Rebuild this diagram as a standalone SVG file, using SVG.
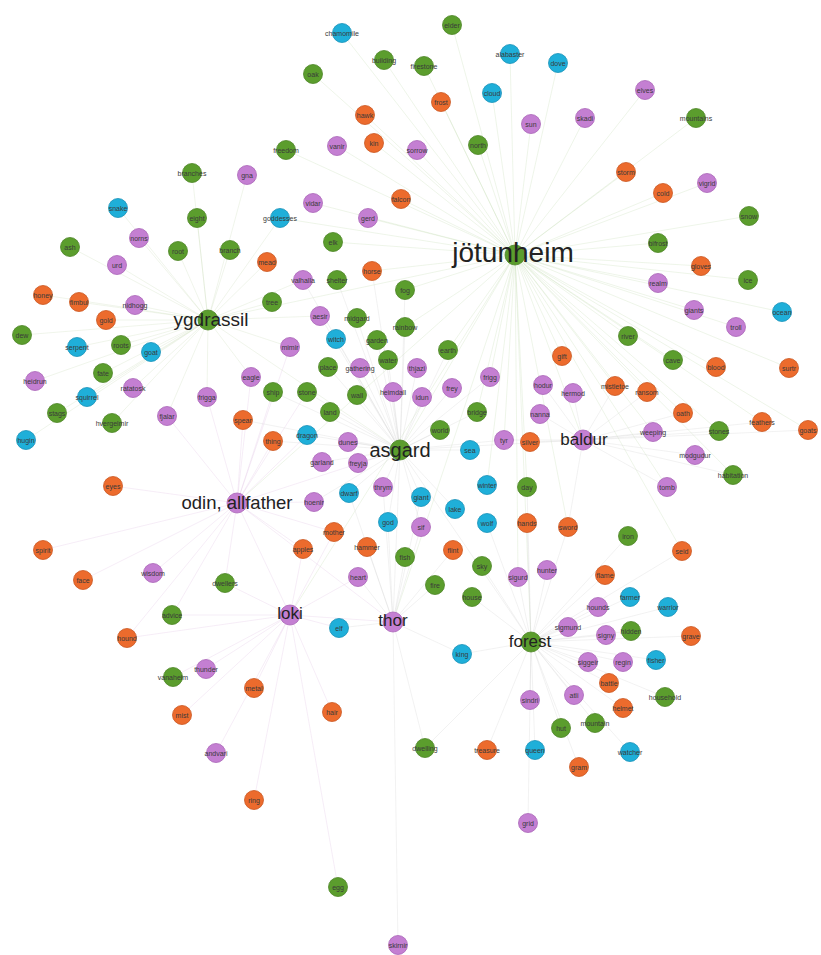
<svg xmlns="http://www.w3.org/2000/svg" width="821" height="955" viewBox="0 0 821 955">
<style>
.g{fill:#5b9d2d;stroke:#4b8424}
.o{fill:#ec6b2d;stroke:#c9561f}
.p{fill:#c47fd2;stroke:#a964b8}
.c{fill:#1fafd9;stroke:#1690b8}
circle{stroke-width:.8}
text{font-family:"Liberation Sans",Arial,sans-serif;text-anchor:middle;fill:#3a3a3a;font-size:7px;dominant-baseline:central}
text.h{fill:#222;font-size:19px}
#edges path{fill:none;stroke-width:.6;stroke-linecap:round}
.ej{stroke:#b7d3a0;opacity:.4}
.ey{stroke:#c6d8b4;opacity:.45}
.eo{stroke:#d7b3de;opacity:.4}
.en{stroke:#cfcfcf;opacity:.45}
</style>
<rect width="821" height="955" fill="#ffffff"/>
<g id="edges">
<path class="ej" d="M515 255L342 33M515 255L452 25M515 255L384 60M515 255L424 66M515 255L510 54M515 255L558 63M515 255L313 74M515 255L492 93M515 255L441 102M515 255L531 124M515 255L645 90M515 255L585 118M515 255L696 118M515 255L365 115M515 255L374 143M515 255L337 146M515 255L417 150M515 255L478 145M515 255L286 150M515 255L401 199M515 255L313 203M515 255L368 218M515 255L333 242M515 255L372 271M515 255L405 290M515 255L405 327M515 255L448 350M515 255L626 172M515 255L663 193M515 255L707 183M515 255L749 216M515 255L658 243M515 255L701 266M515 255L748 280M515 255L658 283M515 255L694 310M515 255L782 312M515 255L736 327M515 255L628 336M515 255L673 360M515 255L716 367M515 255L789 368M515 255L762 422M515 255L719 431M515 255L808 430M515 255L562 356M515 255L490 377M515 255L477 412M515 255L504 440M515 255L527 487M515 255L487 485M515 255L531 642M515 255L400 450M515 255L583 440M515 255L393 622M515 255L237 503M515 255L290 615M515 255L518 577M515 255L568 527M515 255L682 551M515 255L733 475M515 255L667 487M515 255L653 432M515 255L683 413M515 255L647 392M515 255L615 386M515 255L208 320M515 255L280 218"/>
<path class="ey" d="M208 320L192 173M208 320L247 175M208 320L118 208M208 320L197 218M208 320L139 238M208 320L70 247M208 320L178 251M208 320L230 250M208 320L267 262M208 320L117 265M208 320L43 295M208 320L79 302M208 320L135 305M208 320L106 320M208 320L22 335M208 320L77 347M208 320L121 345M208 320L151 352M208 320L103 373M208 320L35 381M208 320L133 388M208 320L87 397M208 320L57 413M208 320L167 416M208 320L112 423M208 320L26 440M208 320L207 397M208 320L280 218M208 320L303 280M208 320L272 302M208 320L320 316M208 320L290 347M208 320L251 377M208 320L400 450"/>
<path class="eo" d="M237 503L113 486M237 503L43 550M237 503L83 580M237 503L153 573M237 503L225 583M237 503L172 615M237 503L127 638M237 503L243 420M237 503L273 441M237 503L307 435M237 503L314 502M237 503L334 532M237 503L303 549M237 503L251 377M237 503L273 392M237 503L307 392M237 503L290 615M237 503L393 622M237 503L400 450M237 503L290 347M237 503L207 397M237 503L167 416M290 615L173 677M290 615L206 669M290 615L254 688M290 615L182 715M290 615L216 753M290 615L254 800M290 615L332 712M290 615L358 577M290 615L339 628M290 615L303 549M290 615L338 887M290 615L393 622M290 615L225 583M290 615L172 615M290 615L127 638M290 615L334 532"/>
<path class="en" d="M393 622L367 547M393 622L405 557M393 622L453 550M393 622L435 585M393 622L421 527M393 622L388 522M393 622L421 497M393 622L383 487M393 622L462 654M393 622L425 748M393 622L398 945M393 622L358 577M393 622L349 493M393 622L339 628M393 622L400 450M531 642L472 597M531 642L482 566M531 642L518 577M531 642L547 570M531 642L605 575M531 642L630 597M531 642L668 607M531 642L598 607M531 642L568 627M531 642L606 635M531 642L631 631M531 642L691 636M531 642L588 662M531 642L623 662M531 642L656 660M531 642L609 683M531 642L574 695M531 642L665 697M531 642L623 708M531 642L595 723M531 642L561 728M531 642L535 750M531 642L487 750M531 642L425 748M531 642L630 752M531 642L579 767M531 642L528 823M531 642L530 700M531 642L628 536M531 642L682 551M531 642L568 527M531 642L527 487M531 642L527 523M531 642L487 523M531 642L462 654M531 642L400 450M400 450L372 271M400 450L337 280M400 450L405 290M400 450L357 318M400 450L405 327M400 450L336 339M400 450L377 340M400 450L448 350M400 450L388 360M400 450L328 367M400 450L360 368M400 450L417 368M400 450L490 377M400 450L273 392M400 450L307 392M400 450L357 395M400 450L393 392M400 450L422 397M400 450L452 388M400 450L477 412M400 450L330 412M400 450L440 430M400 450L307 435M400 450L348 442M400 450L322 462M400 450L358 463M400 450L470 450M400 450L504 440M400 450L349 493M400 450L383 487M400 450L421 497M400 450L455 509M400 450L388 522M400 450L421 527M400 450L320 316M400 450L303 280M400 450L243 420M400 450L273 441M400 450L314 502M583 440L615 386M583 440L647 392M583 440L573 393M583 440L543 385M583 440L540 414M583 440L683 413M583 440L653 432M583 440L695 455M583 440L733 475M583 440L667 487M583 440L530 442M583 440L504 440M583 440L719 431M583 440L762 422M583 440L808 430M583 440L568 527M583 440L400 450"/>
</g>
<g id="n1"><circle class="c" cx="342" cy="33" r="9.5"/><text x="342" y="33">chamomile</text></g>
<g id="n2"><circle class="g" cx="452" cy="25" r="9.5"/><text x="452" y="25">elder</text></g>
<g id="n3"><circle class="g" cx="384" cy="60" r="9.5"/><text x="384" y="60">building</text></g>
<g id="n4"><circle class="g" cx="424" cy="66" r="9.5"/><text x="424" y="66">firestone</text></g>
<g id="n5"><circle class="c" cx="510" cy="54" r="9.5"/><text x="510" y="54">alabaster</text></g>
<g id="n6"><circle class="c" cx="558" cy="63" r="9.5"/><text x="558" y="63">dove</text></g>
<g id="n7"><circle class="g" cx="313" cy="74" r="9.5"/><text x="313" y="74">oak</text></g>
<g id="n8"><circle class="c" cx="492" cy="93" r="9.5"/><text x="492" y="93">cloud</text></g>
<g id="n9"><circle class="o" cx="441" cy="102" r="9.5"/><text x="441" y="102">frost</text></g>
<g id="n10"><circle class="p" cx="531" cy="124" r="9.5"/><text x="531" y="124">sun</text></g>
<g id="n11"><circle class="p" cx="645" cy="90" r="9.5"/><text x="645" y="90">elves</text></g>
<g id="n12"><circle class="p" cx="585" cy="118" r="9.5"/><text x="585" y="118">skadi</text></g>
<g id="n13"><circle class="g" cx="696" cy="118" r="9.5"/><text x="696" y="118">mountains</text></g>
<g id="n14"><circle class="o" cx="365" cy="115" r="9.5"/><text x="365" y="115">hawk</text></g>
<g id="n15"><circle class="o" cx="374" cy="143" r="9.5"/><text x="374" y="143">kin</text></g>
<g id="n16"><circle class="p" cx="337" cy="146" r="9.5"/><text x="337" y="146">vanir</text></g>
<g id="n17"><circle class="p" cx="417" cy="150" r="9.5"/><text x="417" y="150">sorrow</text></g>
<g id="n18"><circle class="g" cx="478" cy="145" r="9.5"/><text x="478" y="145">north</text></g>
<g id="n19"><circle class="g" cx="286" cy="150" r="9.5"/><text x="286" y="150">freedom</text></g>
<g id="n20"><circle class="o" cx="401" cy="199" r="9.5"/><text x="401" y="199">falcon</text></g>
<g id="n21"><circle class="p" cx="313" cy="203" r="9.5"/><text x="313" y="203">vidar</text></g>
<g id="n22"><circle class="p" cx="368" cy="218" r="9.5"/><text x="368" y="218">gerd</text></g>
<g id="n23"><circle class="c" cx="280" cy="218" r="9.5"/><text x="280" y="218">goddesses</text></g>
<g id="n24"><circle class="g" cx="333" cy="242" r="9.5"/><text x="333" y="242">elk</text></g>
<g id="n25"><circle class="g" cx="192" cy="173" r="9.5"/><text x="192" y="173">branches</text></g>
<g id="n26"><circle class="p" cx="247" cy="175" r="9.5"/><text x="247" y="175">gna</text></g>
<g id="n27"><circle class="c" cx="118" cy="208" r="9.5"/><text x="118" y="208">snake</text></g>
<g id="n28"><circle class="g" cx="197" cy="218" r="9.5"/><text x="197" y="218">eight</text></g>
<g id="n29"><circle class="p" cx="139" cy="238" r="9.5"/><text x="139" y="238">norns</text></g>
<g id="n30"><circle class="g" cx="70" cy="247" r="9.5"/><text x="70" y="247">ash</text></g>
<g id="n31"><circle class="g" cx="178" cy="251" r="9.5"/><text x="178" y="251">root</text></g>
<g id="n32"><circle class="g" cx="230" cy="250" r="9.5"/><text x="230" y="250">branch</text></g>
<g id="n33"><circle class="o" cx="267" cy="262" r="9.5"/><text x="267" y="262">mead</text></g>
<g id="n34"><circle class="p" cx="117" cy="265" r="9.5"/><text x="117" y="265">urd</text></g>
<g id="n35"><circle class="o" cx="43" cy="295" r="9.5"/><text x="43" y="295">honey</text></g>
<g id="n36"><circle class="o" cx="79" cy="302" r="9.5"/><text x="79" y="302">fimbul</text></g>
<g id="n37"><circle class="p" cx="135" cy="305" r="9.5"/><text x="135" y="305">nidhogg</text></g>
<g id="n38"><circle class="o" cx="106" cy="320" r="9.5"/><text x="106" y="320">gold</text></g>
<g id="n39"><circle class="g" cx="22" cy="335" r="9.5"/><text x="22" y="335">dew</text></g>
<g id="n40"><circle class="c" cx="77" cy="347" r="9.5"/><text x="77" y="347">serpent</text></g>
<g id="n41"><circle class="g" cx="121" cy="345" r="9.5"/><text x="121" y="345">roots</text></g>
<g id="n42"><circle class="c" cx="151" cy="352" r="9.5"/><text x="151" y="352">goat</text></g>
<g id="n43"><circle class="g" cx="103" cy="373" r="9.5"/><text x="103" y="373">fate</text></g>
<g id="n44"><circle class="p" cx="35" cy="381" r="9.5"/><text x="35" y="381">heidrun</text></g>
<g id="n45"><circle class="p" cx="133" cy="388" r="9.5"/><text x="133" y="388">ratatosk</text></g>
<g id="n46"><circle class="c" cx="87" cy="397" r="9.5"/><text x="87" y="397">squirrel</text></g>
<g id="n47"><circle class="g" cx="57" cy="413" r="9.5"/><text x="57" y="413">stags</text></g>
<g id="n48"><circle class="p" cx="167" cy="416" r="9.5"/><text x="167" y="416">fjalar</text></g>
<g id="n49"><circle class="g" cx="112" cy="423" r="9.5"/><text x="112" y="423">hvergelmir</text></g>
<g id="n50"><circle class="c" cx="26" cy="440" r="9.5"/><text x="26" y="440">hugin</text></g>
<g id="n51"><circle class="p" cx="207" cy="397" r="9.5"/><text x="207" y="397">frigga</text></g>
<g id="n52"><circle class="p" cx="251" cy="377" r="9.5"/><text x="251" y="377">eagle</text></g>
<g id="n53"><circle class="o" cx="243" cy="420" r="9.5"/><text x="243" y="420">spear</text></g>
<g id="n54"><circle class="o" cx="273" cy="441" r="9.5"/><text x="273" y="441">thing</text></g>
<g id="n55"><circle class="o" cx="372" cy="271" r="9.5"/><text x="372" y="271">horse</text></g>
<g id="n56"><circle class="p" cx="303" cy="280" r="9.5"/><text x="303" y="280">valhalla</text></g>
<g id="n57"><circle class="g" cx="337" cy="280" r="9.5"/><text x="337" y="280">shelter</text></g>
<g id="n58"><circle class="g" cx="405" cy="290" r="9.5"/><text x="405" y="290">fog</text></g>
<g id="n59"><circle class="g" cx="272" cy="302" r="9.5"/><text x="272" y="302">tree</text></g>
<g id="n60"><circle class="p" cx="320" cy="316" r="9.5"/><text x="320" y="316">aesir</text></g>
<g id="n61"><circle class="g" cx="357" cy="318" r="9.5"/><text x="357" y="318">midgard</text></g>
<g id="n62"><circle class="g" cx="405" cy="327" r="9.5"/><text x="405" y="327">rainbow</text></g>
<g id="n63"><circle class="c" cx="336" cy="339" r="9.5"/><text x="336" y="339">witch</text></g>
<g id="n64"><circle class="g" cx="377" cy="340" r="9.5"/><text x="377" y="340">garden</text></g>
<g id="n65"><circle class="p" cx="290" cy="347" r="9.5"/><text x="290" y="347">mimir</text></g>
<g id="n66"><circle class="g" cx="448" cy="350" r="9.5"/><text x="448" y="350">earth</text></g>
<g id="n67"><circle class="g" cx="388" cy="360" r="9.5"/><text x="388" y="360">water</text></g>
<g id="n68"><circle class="g" cx="328" cy="367" r="9.5"/><text x="328" y="367">place</text></g>
<g id="n69"><circle class="p" cx="360" cy="368" r="9.5"/><text x="360" y="368">gathering</text></g>
<g id="n70"><circle class="p" cx="417" cy="368" r="9.5"/><text x="417" y="368">thjazi</text></g>
<g id="n71"><circle class="p" cx="490" cy="377" r="9.5"/><text x="490" y="377">frigg</text></g>
<g id="n72"><circle class="g" cx="273" cy="392" r="9.5"/><text x="273" y="392">ship</text></g>
<g id="n73"><circle class="g" cx="307" cy="392" r="9.5"/><text x="307" y="392">stone</text></g>
<g id="n74"><circle class="g" cx="357" cy="395" r="9.5"/><text x="357" y="395">wall</text></g>
<g id="n75"><circle class="p" cx="393" cy="392" r="9.5"/><text x="393" y="392">heimdall</text></g>
<g id="n76"><circle class="p" cx="422" cy="397" r="9.5"/><text x="422" y="397">idun</text></g>
<g id="n77"><circle class="p" cx="452" cy="388" r="9.5"/><text x="452" y="388">frey</text></g>
<g id="n78"><circle class="g" cx="477" cy="412" r="9.5"/><text x="477" y="412">bridge</text></g>
<g id="n79"><circle class="g" cx="330" cy="412" r="9.5"/><text x="330" y="412">land</text></g>
<g id="n80"><circle class="g" cx="440" cy="430" r="9.5"/><text x="440" y="430">world</text></g>
<g id="n81"><circle class="c" cx="307" cy="435" r="9.5"/><text x="307" y="435">dragon</text></g>
<g id="n82"><circle class="p" cx="348" cy="442" r="9.5"/><text x="348" y="442">dunes</text></g>
<g id="n84"><circle class="p" cx="322" cy="462" r="9.5"/><text x="322" y="462">garland</text></g>
<g id="n85"><circle class="p" cx="358" cy="463" r="9.5"/><text x="358" y="463">freyja</text></g>
<g id="n86"><circle class="c" cx="470" cy="450" r="9.5"/><text x="470" y="450">sea</text></g>
<g id="n87"><circle class="p" cx="504" cy="440" r="9.5"/><text x="504" y="440">tyr</text></g>
<g id="n88"><circle class="o" cx="530" cy="442" r="9.5"/><text x="530" y="442">silver</text></g>
<g id="n89"><circle class="p" cx="543" cy="385" r="9.5"/><text x="543" y="385">hodur</text></g>
<g id="n90"><circle class="p" cx="540" cy="414" r="9.5"/><text x="540" y="414">nanna</text></g>
<g id="n92"><circle class="o" cx="626" cy="172" r="9.5"/><text x="626" y="172">storm</text></g>
<g id="n93"><circle class="o" cx="663" cy="193" r="9.5"/><text x="663" y="193">cold</text></g>
<g id="n94"><circle class="p" cx="707" cy="183" r="9.5"/><text x="707" y="183">vigrid</text></g>
<g id="n95"><circle class="g" cx="749" cy="216" r="9.5"/><text x="749" y="216">snow</text></g>
<g id="n96"><circle class="g" cx="658" cy="243" r="9.5"/><text x="658" y="243">bifrost</text></g>
<g id="n97"><circle class="o" cx="701" cy="266" r="9.5"/><text x="701" y="266">gloves</text></g>
<g id="n98"><circle class="g" cx="748" cy="280" r="9.5"/><text x="748" y="280">ice</text></g>
<g id="n99"><circle class="p" cx="658" cy="283" r="9.5"/><text x="658" y="283">realm</text></g>
<g id="n100"><circle class="p" cx="694" cy="310" r="9.5"/><text x="694" y="310">giants</text></g>
<g id="n101"><circle class="c" cx="782" cy="312" r="9.5"/><text x="782" y="312">ocean</text></g>
<g id="n102"><circle class="p" cx="736" cy="327" r="9.5"/><text x="736" y="327">troll</text></g>
<g id="n103"><circle class="g" cx="628" cy="336" r="9.5"/><text x="628" y="336">river</text></g>
<g id="n104"><circle class="o" cx="562" cy="356" r="9.5"/><text x="562" y="356">gift</text></g>
<g id="n105"><circle class="g" cx="673" cy="360" r="9.5"/><text x="673" y="360">cave</text></g>
<g id="n106"><circle class="o" cx="716" cy="367" r="9.5"/><text x="716" y="367">blood</text></g>
<g id="n107"><circle class="o" cx="789" cy="368" r="9.5"/><text x="789" y="368">surtr</text></g>
<g id="n108"><circle class="p" cx="573" cy="393" r="9.5"/><text x="573" y="393">hermod</text></g>
<g id="n109"><circle class="o" cx="615" cy="386" r="9.5"/><text x="615" y="386">mistletoe</text></g>
<g id="n110"><circle class="o" cx="647" cy="392" r="9.5"/><text x="647" y="392">ransom</text></g>
<g id="n111"><circle class="o" cx="683" cy="413" r="9.5"/><text x="683" y="413">oath</text></g>
<g id="n112"><circle class="o" cx="762" cy="422" r="9.5"/><text x="762" y="422">feathers</text></g>
<g id="n113"><circle class="g" cx="719" cy="431" r="9.5"/><text x="719" y="431">stones</text></g>
<g id="n114"><circle class="p" cx="653" cy="432" r="9.5"/><text x="653" y="432">weeping</text></g>
<g id="n115"><circle class="o" cx="808" cy="430" r="9.5"/><text x="808" y="430">goats</text></g>
<g id="n117"><circle class="p" cx="695" cy="455" r="9.5"/><text x="695" y="455">modgudur</text></g>
<g id="n118"><circle class="g" cx="733" cy="475" r="9.5"/><text x="733" y="475">habitation</text></g>
<g id="n119"><circle class="p" cx="667" cy="487" r="9.5"/><text x="667" y="487">tomb</text></g>
<g id="n120"><circle class="p" cx="314" cy="502" r="9.5"/><text x="314" y="502">hoenir</text></g>
<g id="n122"><circle class="c" cx="349" cy="493" r="9.5"/><text x="349" y="493">dwarf</text></g>
<g id="n123"><circle class="p" cx="383" cy="487" r="9.5"/><text x="383" y="487">thrym</text></g>
<g id="n124"><circle class="c" cx="421" cy="497" r="9.5"/><text x="421" y="497">giant</text></g>
<g id="n125"><circle class="c" cx="487" cy="485" r="9.5"/><text x="487" y="485">winter</text></g>
<g id="n126"><circle class="g" cx="527" cy="487" r="9.5"/><text x="527" y="487">day</text></g>
<g id="n127"><circle class="c" cx="455" cy="509" r="9.5"/><text x="455" y="509">lake</text></g>
<g id="n128"><circle class="c" cx="388" cy="522" r="9.5"/><text x="388" y="522">god</text></g>
<g id="n129"><circle class="p" cx="421" cy="527" r="9.5"/><text x="421" y="527">sif</text></g>
<g id="n130"><circle class="c" cx="487" cy="523" r="9.5"/><text x="487" y="523">wolf</text></g>
<g id="n131"><circle class="o" cx="527" cy="523" r="9.5"/><text x="527" y="523">hands</text></g>
<g id="n132"><circle class="o" cx="334" cy="532" r="9.5"/><text x="334" y="532">mother</text></g>
<g id="n133"><circle class="o" cx="303" cy="549" r="9.5"/><text x="303" y="549">apples</text></g>
<g id="n134"><circle class="o" cx="367" cy="547" r="9.5"/><text x="367" y="547">hammer</text></g>
<g id="n135"><circle class="g" cx="405" cy="557" r="9.5"/><text x="405" y="557">fish</text></g>
<g id="n136"><circle class="o" cx="453" cy="550" r="9.5"/><text x="453" y="550">flint</text></g>
<g id="n137"><circle class="o" cx="568" cy="527" r="9.5"/><text x="568" y="527">sword</text></g>
<g id="n138"><circle class="g" cx="628" cy="536" r="9.5"/><text x="628" y="536">iron</text></g>
<g id="n139"><circle class="o" cx="682" cy="551" r="9.5"/><text x="682" y="551">seid</text></g>
<g id="n140"><circle class="g" cx="482" cy="566" r="9.5"/><text x="482" y="566">sky</text></g>
<g id="n141"><circle class="p" cx="358" cy="577" r="9.5"/><text x="358" y="577">heart</text></g>
<g id="n142"><circle class="p" cx="518" cy="577" r="9.5"/><text x="518" y="577">sigurd</text></g>
<g id="n143"><circle class="p" cx="547" cy="570" r="9.5"/><text x="547" y="570">hunter</text></g>
<g id="n144"><circle class="g" cx="435" cy="585" r="9.5"/><text x="435" y="585">fire</text></g>
<g id="n145"><circle class="g" cx="472" cy="597" r="9.5"/><text x="472" y="597">house</text></g>
<g id="n148"><circle class="c" cx="339" cy="628" r="9.5"/><text x="339" y="628">elf</text></g>
<g id="n149"><circle class="c" cx="462" cy="654" r="9.5"/><text x="462" y="654">king</text></g>
<g id="n151"><circle class="p" cx="530" cy="700" r="9.5"/><text x="530" y="700">sindri</text></g>
<g id="n152"><circle class="o" cx="605" cy="575" r="9.5"/><text x="605" y="575">flame</text></g>
<g id="n153"><circle class="c" cx="630" cy="597" r="9.5"/><text x="630" y="597">farmer</text></g>
<g id="n154"><circle class="c" cx="668" cy="607" r="9.5"/><text x="668" y="607">warrior</text></g>
<g id="n155"><circle class="p" cx="598" cy="607" r="9.5"/><text x="598" y="607">hounds</text></g>
<g id="n156"><circle class="p" cx="568" cy="627" r="9.5"/><text x="568" y="627">sigmund</text></g>
<g id="n157"><circle class="p" cx="606" cy="635" r="9.5"/><text x="606" y="635">signy</text></g>
<g id="n158"><circle class="g" cx="631" cy="631" r="9.5"/><text x="631" y="631">hidden</text></g>
<g id="n159"><circle class="o" cx="691" cy="636" r="9.5"/><text x="691" y="636">grave</text></g>
<g id="n160"><circle class="p" cx="588" cy="662" r="9.5"/><text x="588" y="662">siggeir</text></g>
<g id="n161"><circle class="p" cx="623" cy="662" r="9.5"/><text x="623" y="662">regin</text></g>
<g id="n162"><circle class="c" cx="656" cy="660" r="9.5"/><text x="656" y="660">fisher</text></g>
<g id="n163"><circle class="o" cx="609" cy="683" r="9.5"/><text x="609" y="683">battle</text></g>
<g id="n164"><circle class="p" cx="574" cy="695" r="9.5"/><text x="574" y="695">atli</text></g>
<g id="n165"><circle class="g" cx="665" cy="697" r="9.5"/><text x="665" y="697">household</text></g>
<g id="n166"><circle class="o" cx="623" cy="708" r="9.5"/><text x="623" y="708">helmet</text></g>
<g id="n167"><circle class="g" cx="595" cy="723" r="9.5"/><text x="595" y="723">mountain</text></g>
<g id="n168"><circle class="g" cx="561" cy="728" r="9.5"/><text x="561" y="728">hut</text></g>
<g id="n169"><circle class="c" cx="535" cy="750" r="9.5"/><text x="535" y="750">queen</text></g>
<g id="n170"><circle class="o" cx="487" cy="750" r="9.5"/><text x="487" y="750">treasure</text></g>
<g id="n171"><circle class="g" cx="425" cy="748" r="9.5"/><text x="425" y="748">dwelling</text></g>
<g id="n172"><circle class="c" cx="630" cy="752" r="9.5"/><text x="630" y="752">watcher</text></g>
<g id="n173"><circle class="o" cx="579" cy="767" r="9.5"/><text x="579" y="767">gram</text></g>
<g id="n174"><circle class="p" cx="528" cy="823" r="9.5"/><text x="528" y="823">grid</text></g>
<g id="n175"><circle class="g" cx="338" cy="887" r="9.5"/><text x="338" y="887">egg</text></g>
<g id="n176"><circle class="p" cx="398" cy="945" r="9.5"/><text x="398" y="945">skirnir</text></g>
<g id="n177"><circle class="o" cx="332" cy="712" r="9.5"/><text x="332" y="712">hair</text></g>
<g id="n178"><circle class="o" cx="113" cy="486" r="9.5"/><text x="113" y="486">eyes</text></g>
<g id="n179"><circle class="o" cx="43" cy="550" r="9.5"/><text x="43" y="550">spirit</text></g>
<g id="n180"><circle class="o" cx="83" cy="580" r="9.5"/><text x="83" y="580">face</text></g>
<g id="n181"><circle class="p" cx="153" cy="573" r="9.5"/><text x="153" y="573">wisdom</text></g>
<g id="n182"><circle class="g" cx="225" cy="583" r="9.5"/><text x="225" y="583">dwellers</text></g>
<g id="n183"><circle class="g" cx="172" cy="615" r="9.5"/><text x="172" y="615">advice</text></g>
<g id="n184"><circle class="o" cx="127" cy="638" r="9.5"/><text x="127" y="638">hound</text></g>
<g id="n185"><circle class="g" cx="173" cy="677" r="9.5"/><text x="173" y="677">vanaheim</text></g>
<g id="n186"><circle class="p" cx="206" cy="669" r="9.5"/><text x="206" y="669">thunder</text></g>
<g id="n187"><circle class="o" cx="254" cy="688" r="9.5"/><text x="254" y="688">metal</text></g>
<g id="n188"><circle class="o" cx="182" cy="715" r="9.5"/><text x="182" y="715">mist</text></g>
<g id="n189"><circle class="p" cx="216" cy="753" r="9.5"/><text x="216" y="753">andvari</text></g>
<g id="n190"><circle class="o" cx="254" cy="800" r="9.5"/><text x="254" y="800">ring</text></g>
<g id="jotunheim"><circle class="g" cx="515" cy="255" r="10"/><text class="h" x="513" y="252" style="font-size:28px">jötunheim</text></g>
<g id="ygdrassil"><circle class="g" cx="208" cy="320" r="10"/><text class="h" x="211" y="319" style="font-size:19px">ygdrassil</text></g>
<g id="asgard"><circle class="g" cx="400" cy="450" r="10"/><text class="h" x="400" y="450" style="font-size:20px">asgard</text></g>
<g id="odin"><circle class="p" cx="237" cy="503" r="10"/><text class="h" x="237" y="502" style="font-size:18.5px">odin, allfather</text></g>
<g id="baldur"><circle class="p" cx="583" cy="440" r="10"/><text class="h" x="584" y="439" style="font-size:17px">baldur</text></g>
<g id="loki"><circle class="p" cx="290" cy="615" r="10"/><text class="h" x="290" y="613" style="font-size:17px">loki</text></g>
<g id="thor"><circle class="p" cx="393" cy="622" r="10"/><text class="h" x="393" y="620" style="font-size:17px">thor</text></g>
<g id="forest"><circle class="g" cx="531" cy="642" r="10"/><text class="h" x="530" y="641" style="font-size:17px">forest</text></g>
</svg>
